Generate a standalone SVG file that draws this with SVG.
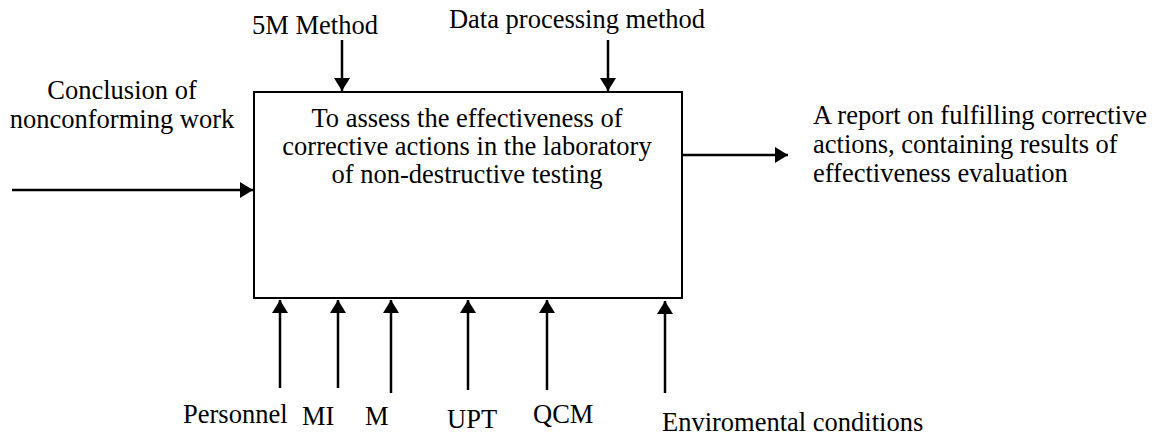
<svg xmlns="http://www.w3.org/2000/svg" width="1158" height="436" viewBox="0 0 1158 436">
  <style>
    text { font-family: "Liberation Serif", "Times New Roman", serif; font-size: 26.5px; fill: #000; }
    .mid { text-anchor: middle; }
    .box { fill: #fff; stroke: #000; stroke-width: 2; }
    .arrow { stroke: #000; stroke-width: 2.5; fill: none; marker-end: url(#head); }
  </style>
  <defs>
    <marker id="head" viewBox="0 0 13 16" refX="13" refY="8" markerWidth="13" markerHeight="16" markerUnits="userSpaceOnUse" orient="auto">
      <path d="M0,0 L13,8 L0,16 Z" fill="#000"/>
    </marker>
  </defs>

  <!-- Function block -->
  <g id="node-activity">
    <rect class="box" x="254" y="92" width="428" height="206"/>
    <text class="mid" x="467" y="127">To assess the effectiveness of</text>
    <text class="mid" x="467" y="155">corrective actions in the laboratory</text>
    <text class="mid" x="467" y="183">of non-destructive testing</text>
  </g>

  <!-- Arrows: controls, input, output, mechanisms -->
  <g id="connectors">
    <line class="arrow" x1="342" y1="40" x2="342" y2="91"/>
    <line class="arrow" x1="608" y1="40" x2="608" y2="91"/>
    <line class="arrow" x1="12" y1="190" x2="253" y2="190"/>
    <line class="arrow" x1="682" y1="155" x2="788" y2="155"/>
    <line class="arrow" x1="280" y1="388" x2="280" y2="300"/>
    <line class="arrow" x1="338" y1="388" x2="338" y2="300"/>
    <line class="arrow" x1="391" y1="393" x2="391" y2="300"/>
    <line class="arrow" x1="468" y1="390" x2="468" y2="300"/>
    <line class="arrow" x1="547" y1="390" x2="547" y2="300"/>
    <line class="arrow" x1="665" y1="393" x2="665" y2="301"/>
  </g>

  <g id="label-5m">
    <text class="mid" x="315" y="34">5M Method</text>
  </g>
  <g id="label-data">
    <text class="mid" x="577" y="28">Data processing method</text>
  </g>
  <g id="label-input">
    <text class="mid" x="122" y="99">Conclusion of</text>
    <text class="mid" x="122" y="128">nonconforming work</text>
  </g>
  <g id="label-output">
    <text x="813" y="124">A report on fulfilling corrective</text>
    <text x="813" y="153">actions, containing results of</text>
    <text x="813" y="182">effectiveness evaluation</text>
  </g>
  <g id="label-personnel"><text x="183" y="423">Personnel</text></g>
  <g id="label-mi"><text x="302" y="425">MI</text></g>
  <g id="label-m"><text x="365" y="425">M</text></g>
  <g id="label-upt"><text x="447" y="428">UPT</text></g>
  <g id="label-qcm"><text x="533" y="423">QCM</text></g>
  <g id="label-env"><text x="662" y="431">Enviromental conditions</text></g>
</svg>
